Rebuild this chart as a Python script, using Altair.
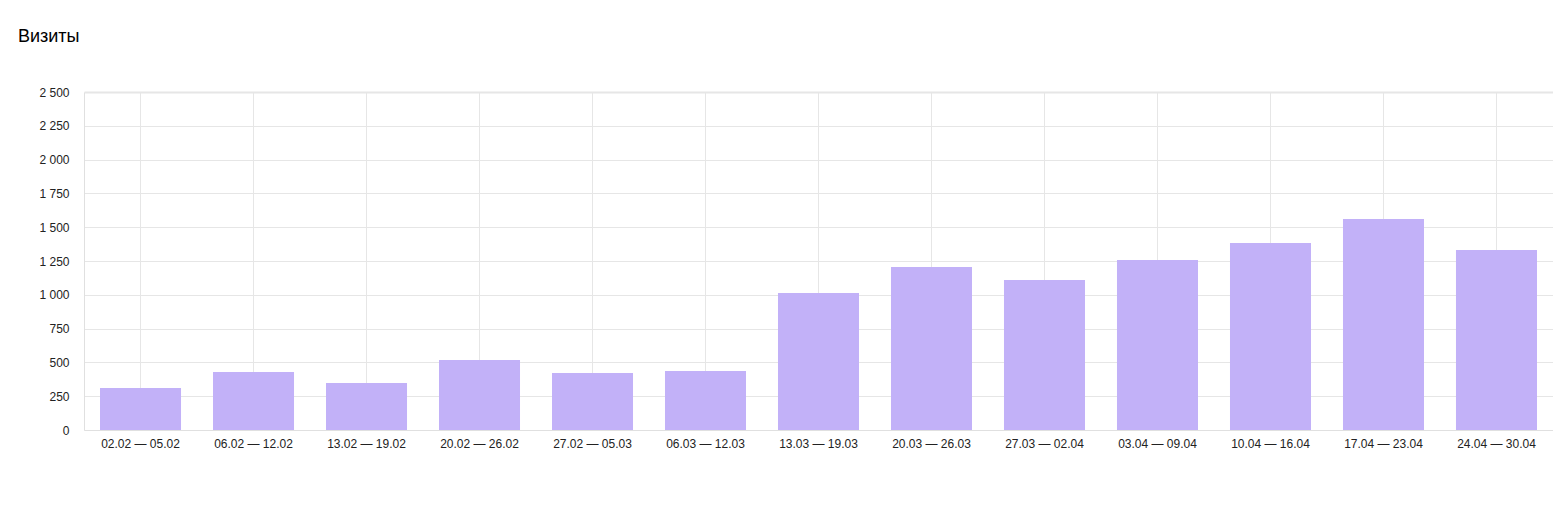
import altair as alt
import pandas as pd

weeks = ["02.02 — 05.02", "06.02 — 12.02", "13.02 — 19.02", "20.02 — 26.02",
         "27.02 — 05.03", "06.03 — 12.03", "13.03 — 19.03", "20.03 — 26.03",
         "27.03 — 02.04", "03.04 — 09.04", "10.04 — 16.04", "17.04 — 23.04",
         "24.04 — 30.04"]
visits = [311, 429, 348, 518, 422, 436, 1013, 1206, 1109, 1257, 1383, 1561, 1331]
y_ticks = [0, 250, 500, 750, 1000, 1250, 1500, 1750, 2000, 2250, 2500]

df = pd.DataFrame({"week": weeks, "visits": visits})

FONT = "Liberation Sans"

chart = alt.Chart(df).mark_bar(color="#c2b1f8").encode(
    x=alt.X("week:N", sort=weeks, title=None,
            scale=alt.Scale(paddingInner=0.283, paddingOuter=0.1416),
            axis=alt.Axis(labelAngle=0, grid=True, bandPosition=0.5, ticks=False,
                          domainColor="#e0e0e0", gridColor="#e6e6e6", labelPadding=8,
                          labelFontSize=12, labelColor="#222", labelFont=FONT)),
    y=alt.Y("visits:Q", title=None,
            scale=alt.Scale(domain=[0, 2500], nice=False),
            axis=alt.Axis(values=y_ticks, ticks=False, grid=True, gridColor="#e6e6e6",
                          gridWidth={"condition": {"test": "datum.value == 2500", "value": 2},
                                     "value": 1},
                          domainColor="#e0e0e0", labelPadding=15, labelFontSize=12,
                          labelColor="#222", labelFont=FONT,
                          labelExpr="replace(format(datum.value, ','), ',', ' ')")),
).properties(
    width=1469, height=338,
    title=alt.TitleParams("Визиты", anchor="start", frame="group", dx=-66, offset=40,
                          fontSize=18, fontWeight="normal", font=FONT, color="#000"),
    padding={"left": 76, "top": 84, "right": 0, "bottom": 60},
    autosize=alt.AutoSizeParams(type="none"),
).configure_view(stroke=None)

chart.save("out.html", embed_options={"renderer": "svg", "actions": False})
